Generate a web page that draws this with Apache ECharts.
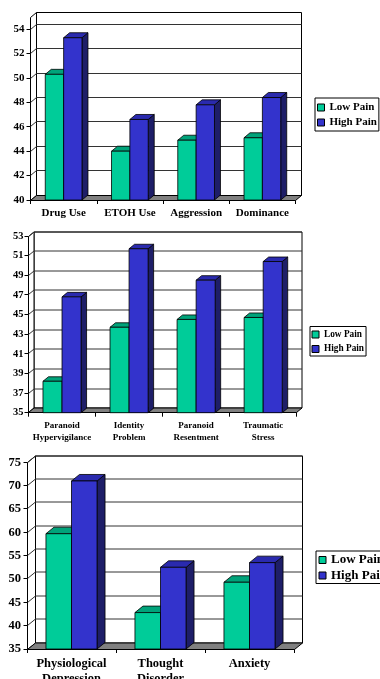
<!DOCTYPE html>
<html>
<head>
<meta charset="utf-8">
<script src="https://cdn.jsdelivr.net/npm/echarts@6/dist/echarts.min.js"></script>
<style>
  html, body { margin: 0; padding: 0; background: #fff; }
  #chart { width: 380px; height: 679px; }
</style>
</head>
<body>
<div id="chart"></div>
<script>
// ---- data ----
const categories1 = ['Drug Use', 'ETOH Use', 'Aggression', 'Dominance'];
const lowPain1 = [50.3, 44.0, 44.9, 45.1];
const highPain1 = [53.3, 46.6, 47.8, 48.4];
const yTicks1 = [40, 42, 44, 46, 48, 50, 52, 54];

const categories2 = ['Paranoid\nHypervigilance', 'Identity\nProblem', 'Paranoid\nResentment', 'Traumatic\nStress'];
const lowPain2 = [38.2, 43.7, 44.5, 44.7];
const highPain2 = [46.8, 51.7, 48.5, 50.4];
const yTicks2 = [35, 37, 39, 41, 43, 45, 47, 49, 51, 53];

const categories3 = ['Physiological\nDepression', 'Thought\nDisorder', 'Anxiety'];
const lowPain3 = [59.7, 42.8, 49.3];
const highPain3 = [71.0, 52.5, 53.5];
const yTicks3 = [35, 40, 45, 50, 55, 60, 65, 70, 75];

const seriesNames = ['Low Pain', 'High Pain'];

// ---- styling ----
const FONT = "'Liberation Serif', 'Times New Roman', serif";
const LOW = { front: '#00CC99', top: '#00A37A', side: '#00704F' };
const HIGH = { front: '#3333CC', top: '#2A2AAE', side: '#1E1E68' };
const EDGE = '#000';

const crisp = v => Math.round(v - 0.5) + 0.5;

// back wall, left wall, gridlines and floor of the 3-D plot box
function wallsRenderer(depth, ticks, yMin) {
  return function (params, api) {
    const cs = params.coordSys;
    const dx = depth[0], dy = depth[1];
    const x0 = crisp(cs.x), x1 = crisp(cs.x + cs.width);
    const top = crisp(cs.y), bot = crisp(cs.y + cs.height);
    const children = [];
    children.push({
      type: 'polygon',
      shape: { points: [[x0 + dx, top + dy], [x1 + dx, top + dy], [x1 + dx, bot + dy], [x0 + dx, bot + dy]] },
      style: { fill: '#fff', stroke: EDGE, lineWidth: 1 }
    });
    children.push({
      type: 'polygon',
      shape: { points: [[x0, top], [x0 + dx, top + dy], [x0 + dx, bot + dy], [x0, bot]] },
      style: { fill: '#fff', stroke: EDGE, lineWidth: 1 }
    });
    ticks.forEach(function (v) {
      const y = crisp(api.coord([0, v])[1]);
      if (v > yMin) {
        children.push({ type: 'line', shape: { x1: x0 + dx, y1: y + dy, x2: x1 + dx, y2: y + dy },
          style: { stroke: '#333', lineWidth: 1 } });
        children.push({ type: 'line', shape: { x1: x0, y1: y, x2: x0 + dx, y2: y + dy },
          style: { stroke: '#333', lineWidth: 1 } });
      }
      children.push({ type: 'line', shape: { x1: x0 - 4, y1: y, x2: x0, y2: y },
        style: { stroke: EDGE, lineWidth: 1 } });
    });
    children.push({
      type: 'polygon',
      shape: { points: [[x0, bot], [x1, bot], [x1 + dx, bot + dy], [x0 + dx, bot + dy]] },
      style: { fill: '#808080', stroke: EDGE, lineWidth: 1 }
    });
    return { type: 'group', children: children };
  };
}

// one 3-D bar: front face, top face and right side face
function barRenderer(side, frac, depth, yMin, colors) {
  return function (params, api) {
    const ci = api.value(0), v = api.value(1);
    const p = api.coord([ci, v]);
    const base = api.coord([ci, yMin]);
    const w = api.size([1, 0])[0] * frac;
    const dx = depth[0], dy = depth[1];
    const xl = side < 0 ? p[0] - w : p[0];
    const xr = xl + w;
    const yt = p[1], yb = base[1];
    const st = { stroke: EDGE, lineWidth: 0.8 };
    return {
      type: 'group',
      children: [
        { type: 'polygon', shape: { points: [[xr, yt], [xr + dx, yt + dy], [xr + dx, yb + dy], [xr, yb]] },
          style: Object.assign({ fill: colors.side }, st) },
        { type: 'polygon', shape: { points: [[xl, yt], [xr, yt], [xr + dx, yt + dy], [xl + dx, yt + dy]] },
          style: Object.assign({ fill: colors.top }, st) },
        { type: 'rect', shape: { x: xl, y: yt, width: w, height: yb - yt },
          style: Object.assign({ fill: colors.front }, st) }
      ]
    };
  };
}

const panels = [
  { cats: categories1, low: lowPain1, high: highPain1, ticks: yTicks1,
    min: 40, max: 55, interval: 2, depth: [6, -5], frac: 0.277,
    grid: { left: 30.5, right: 84.5, top: 17, bottom: 479 },
    tickFont: 11, catFont: 11, catLine: 13, catMargin: 7, labelMargin: 6,
    legend: { left: 315, top: 98, font: 11, gap: 2, line: 13, padding: [3, 2, 2, 2] } },
  { cats: categories2, low: lowPain2, high: highPain2, ticks: yTicks2,
    min: 35, max: 53, interval: 2, depth: [5.5, -4.5], frac: 0.284,
    grid: { left: 28.5, right: 83.3, top: 236, bottom: 266.3 },
    tickFont: 10.5, catFont: 9, catLine: 11.7, catMargin: 7, labelMargin: 5,
    legend: { left: 310, top: 326.5, font: 9.3, gap: 2.5, line: 12, padding: [2, 2, 1, 1.5] } },
  { cats: categories3, low: lowPain3, high: highPain3, ticks: yTicks3,
    min: 35, max: 75, interval: 5, depth: [8, -6.5], frac: 0.287,
    grid: { left: 27, right: 86, top: 462.3, bottom: 30 },
    tickFont: 12.5, catFont: 12.5, catLine: 15, catMargin: 7, labelMargin: 6,
    legend: { left: 316, top: 551, font: 13, gap: 1.5, line: 14, padding: [2, 4, 1, 2.5] } }
];

const option = { animation: false, backgroundColor: '#fff', grid: [], xAxis: [], yAxis: [], series: [], legend: [] };

panels.forEach(function (pn, k) {
  option.grid.push(Object.assign({ containLabel: false, outerBoundsMode: 'none' }, pn.grid));
  option.xAxis.push({
    type: 'category', gridIndex: k, data: pn.cats,
    axisLine: { show: true, lineStyle: { color: EDGE, width: 1 } },
    axisTick: { show: true, length: 4, lineStyle: { color: EDGE } },
    axisLabel: { interval: 0, margin: pn.catMargin, color: '#000', fontFamily: FONT,
      fontWeight: 'bold', fontSize: pn.catFont, lineHeight: pn.catLine },
    splitLine: { show: false }
  });
  option.yAxis.push({
    type: 'value', gridIndex: k, min: pn.min, max: pn.max, interval: pn.interval,
    axisLine: { show: false }, axisTick: { show: false }, splitLine: { show: false },
    axisLabel: { showMaxLabel: pn.ticks.indexOf(pn.max) >= 0, margin: pn.labelMargin,
      color: '#000', fontFamily: FONT, fontWeight: 'bold', fontSize: pn.tickFont }
  });
  option.series.push({
    type: 'custom', xAxisIndex: k, yAxisIndex: k, silent: true, z: 1,
    renderItem: wallsRenderer(pn.depth, pn.ticks, pn.min),
    data: [[0, pn.min]]
  });
  option.series.push({
    type: 'custom', name: seriesNames[0], xAxisIndex: k, yAxisIndex: k, z: 2,
    itemStyle: { color: LOW.front },
    renderItem: barRenderer(-1, pn.frac, pn.depth, pn.min, LOW),
    data: pn.low.map(function (v, i) { return [i, v]; })
  });
  option.series.push({
    type: 'custom', name: seriesNames[1], xAxisIndex: k, yAxisIndex: k, z: 3,
    itemStyle: { color: HIGH.front },
    renderItem: barRenderer(1, pn.frac, pn.depth, pn.min, HIGH),
    data: pn.high.map(function (v, i) { return [i, v]; })
  });
  option.legend.push({
    orient: 'vertical', left: pn.legend.left, top: pn.legend.top,
    data: seriesNames, icon: 'rect', itemWidth: 7, itemHeight: 7, itemGap: pn.legend.gap,
    padding: pn.legend.padding, backgroundColor: '#fff', borderColor: '#000', borderWidth: 1,
    selectedMode: false,
    itemStyle: { borderColor: '#000', borderWidth: 1 },
    textStyle: { color: '#000', fontFamily: FONT, fontWeight: 'bold', fontSize: pn.legend.font,
      lineHeight: pn.legend.line }
  });
});

const chart = echarts.init(document.getElementById('chart'), null, { renderer: 'canvas' });
chart.setOption(option);
</script>
</body>
</html>
